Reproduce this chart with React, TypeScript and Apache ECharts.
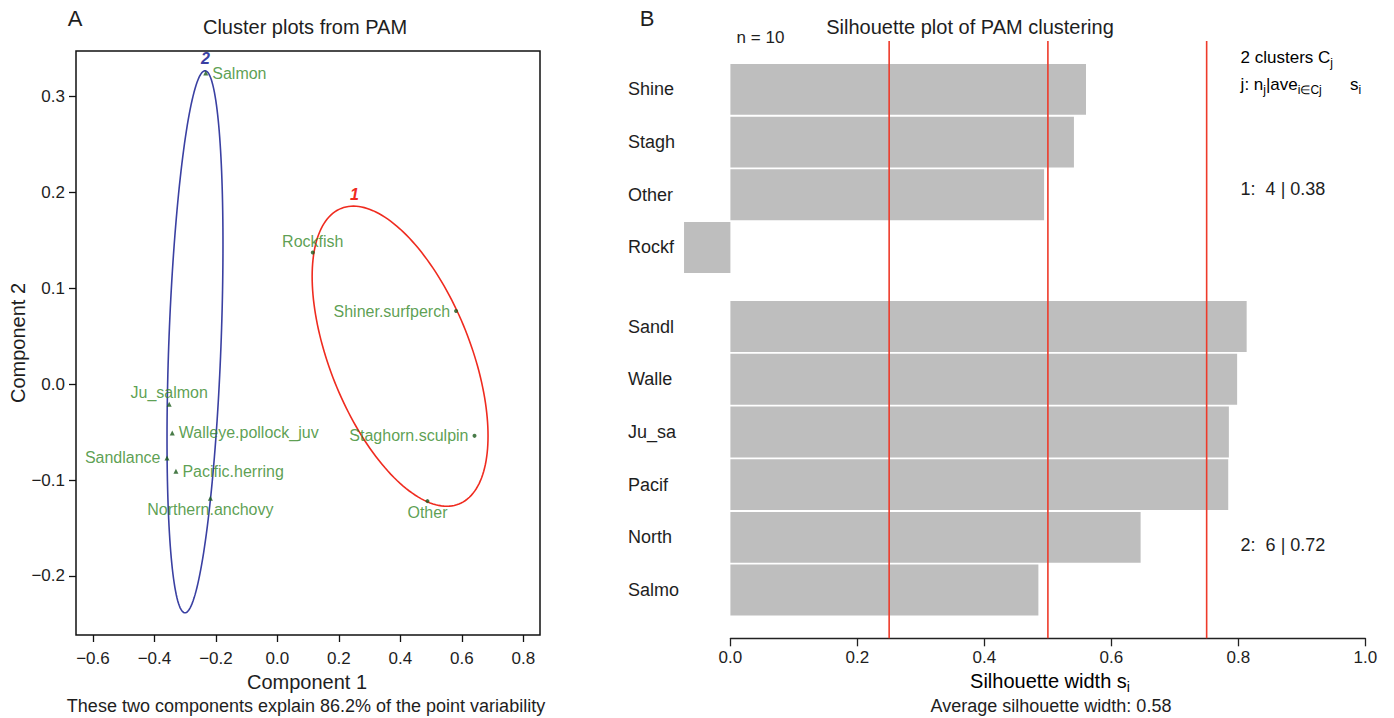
import React, { useEffect, useRef } from "react";
import * as echarts from "echarts";

// ---------- Panel A data (clusplot) ----------
const speciesNames = [
  "Salmon", "Ju_salmon", "Walleye.pollock_juv", "Sandlance", "Pacific.herring",
  "Northern.anchovy", "Rockfish", "Shiner.surfperch", "Staghorn.sculpin", "Other",
];
const comp1 = [-0.233, -0.352, -0.342, -0.359, -0.330, -0.218, 0.115, 0.581, 0.641, 0.488];
const comp2 = [0.324, -0.021, -0.051, -0.077, -0.091, -0.119, 0.137, 0.076, -0.054, -0.122];
const speciesCluster = [2, 2, 2, 2, 2, 2, 1, 1, 1, 1];

// ellipses: center + two conjugate half-axis vectors (data units)
const clusterIds = [1, 2];
const ellipseCenterX = [0.399, -0.268];
const ellipseCenterY = [0.029, 0.044];
const ellipseAx = [0.286, 0.091];
const ellipseAy = [-0.083, 0.101];
const ellipseBx = [0, 0];
const ellipseBy = [0.1325, 0.2637];

const xTicksA = [-0.6, -0.4, -0.2, 0, 0.2, 0.4, 0.6, 0.8];
const yTicksA = [-0.2, -0.1, 0, 0.1, 0.2, 0.3];
const varExplained = 86.2;

// ---------- Panel B data (silhouette) ----------
const silNames = ["Shine", "Stagh", "Other", "Rockf", "Sandl", "Walle", "Ju_sa", "Pacif", "North", "Salmo"];
const silValues = [0.560, 0.541, 0.494, -0.073, 0.813, 0.798, 0.785, 0.784, 0.646, 0.485];
const silCluster = [1, 1, 1, 1, 2, 2, 2, 2, 2, 2];
const xTicksB = [0, 0.2, 0.4, 0.6, 0.8, 1.0];
const refLines = [0.25, 0.5, 0.75];
const clusterSizes = [4, 6];
const clusterAvgSil = [0.38, 0.72];
const avgSil = 0.58;
const nObs = 10;

// ---------- styling ----------
const FONT = "'Liberation Sans', Arial, Helvetica, sans-serif";
const TXT = "#1e1e1e";
const LABEL_GREEN = "#338726";
const POINT_GREEN = "#1a5a1a";
const CLUSTER_COLORS: Record<number, string> = { 1: "#ef2b1f", 2: "#3a40a2" };
const labelPlacement: Record<string, string> = {
  Salmon: "right",
  Ju_salmon: "top",
  "Walleye.pollock_juv": "right",
  Sandlance: "left",
  "Pacific.herring": "right",
  "Northern.anchovy": "bottom",
  Rockfish: "top",
  "Shiner.surfperch": "left",
  "Staghorn.sculpin": "left",
  Other: "bottom",
};
const CLUSTER_GAP = 0.5; // extra row units between clusters in silhouette plot

const fmtMinus = (v: number) => (v < 0 ? "\u2212" + Math.abs(v).toFixed(1) : v.toFixed(1));

export default function App() {
  const ref = useRef<HTMLDivElement>(null);

  useEffect(() => {
    if (!ref.current) return;
    const chart = echarts.init(ref.current, undefined, { renderer: "svg" });

    const rowPos: number[] = silNames.map((_, i) => i + (silCluster[i] - 1) * CLUSTER_GAP);
    const posName: Record<string, string> = {};
    rowPos.forEach((p, i) => (posName[p.toFixed(2)] = silNames[i]));

    const scatterData = speciesNames.map((n, i) => ({
      name: n,
      value: [comp1[i], comp2[i]],
      symbol: speciesCluster[i] === 2 ? "triangle" : "circle",
      symbolSize: speciesCluster[i] === 2 ? 5 : 4,
      label: { position: labelPlacement[n], distance: labelPlacement[n] === "top" || labelPlacement[n] === "bottom" ? 1 : 4 },
    }));

    const txt = (text: string, x: number, y: number, size: number, extra: any = {}) => ({
      type: "text",
      x,
      y,
      silent: true,
      ...extra,
      style: {
        text,
        fill: TXT,
        font: `${size}px ${FONT}`,
        align: extra.align || "center",
        verticalAlign: "middle",
        textAlign: extra.align || "center",
        textVerticalAlign: "middle",
      },
    });

    const subRich = (size: number) => ({
      m: { fontSize: size, fontFamily: FONT, color: TXT, lineHeight: size + 6, verticalAlign: "middle" },
      s: { fontSize: Math.round(size * 0.7), fontFamily: FONT, color: TXT, lineHeight: Math.round(size * 0.7), verticalAlign: "bottom" },
    });

    const option: any = {
      animation: false,
      backgroundColor: "#ffffff",
      grid: [
        { left: 76, top: 51, width: 464, height: 584, show: true, borderColor: "#111", borderWidth: 1.5, backgroundColor: "transparent" },
        { left: 730.4, top: 41, width: 635, height: 597.3, show: false },
      ],
      xAxis: [
        {
          gridIndex: 0, type: "value", min: -0.655, max: 0.854,
          axisLine: { show: false, onZero: false },
          splitLine: { show: false },
          axisTick: { show: true, customValues: xTicksA, length: 7, lineStyle: { color: "#111", width: 1.3 } },
          axisLabel: { customValues: xTicksA, formatter: fmtMinus, margin: 15, fontSize: 17, fontFamily: FONT, color: TXT },
        },
        {
          gridIndex: 1, type: "value", min: 0, max: 1, interval: 0.2,
          axisLine: { show: true, onZero: false, lineStyle: { color: "#222", width: 1.3 } },
          splitLine: { show: false },
          axisTick: { show: true, length: 8, lineStyle: { color: "#222", width: 1.3 } },
          axisLabel: { customValues: xTicksB, formatter: (v: number) => v.toFixed(1), margin: 11, fontSize: 17, fontFamily: FONT, color: TXT },
        },
      ],
      yAxis: [
        {
          gridIndex: 0, type: "value", min: -0.2615, max: 0.347,
          axisLine: { show: false, onZero: false },
          splitLine: { show: false },
          axisTick: { show: true, customValues: yTicksA, length: 7, lineStyle: { color: "#111", width: 1.3 } },
          axisLabel: { customValues: yTicksA, formatter: fmtMinus, margin: 11, fontSize: 17, fontFamily: FONT, color: TXT },
        },
        {
          gridIndex: 1, type: "value", inverse: true, min: -0.918, max: 10.416,
          axisLine: { show: false, onZero: false },
          axisTick: { show: false },
          splitLine: { show: false },
          axisLabel: {
            customValues: rowPos,
            formatter: (v: number) => posName[v.toFixed(2)] || "",
            align: "left", margin: 102.4, fontSize: 18, fontFamily: FONT, color: TXT,
            padding: [4, 0, 0, 0],
          },
        },
      ],
      series: [
        {
          type: "custom",
          xAxisIndex: 0, yAxisIndex: 0,
          silent: true,
          data: clusterIds.map((id, i) => [ellipseCenterX[i], ellipseCenterY[i], id]),
          encode: { x: 0, y: 1 },
          renderItem: (params: any, api: any) => {
            const i = params.dataIndex;
            const id = clusterIds[i];
            const pts: number[][] = [];
            let top = [0, Infinity];
            for (let k = 0; k <= 180; k++) {
              const t = (k / 180) * Math.PI * 2;
              const dx = ellipseCenterX[i] + ellipseAx[i] * Math.cos(t) + ellipseBx[i] * Math.sin(t);
              const dy = ellipseCenterY[i] + ellipseAy[i] * Math.cos(t) + ellipseBy[i] * Math.sin(t);
              const p = api.coord([dx, dy]);
              pts.push(p);
              if (p[1] < top[1]) top = p;
            }
            return {
              type: "group",
              children: [
                { type: "polygon", shape: { points: pts }, style: { fill: "none", stroke: CLUSTER_COLORS[id], lineWidth: 1.6 } },
                {
                  type: "text", x: top[0] + 1, y: top[1] - 12,
                  style: { text: String(id), fill: CLUSTER_COLORS[id], font: `italic bold 16px ${FONT}`, align: "center", verticalAlign: "middle" },
                },
              ],
            };
          },
          z: 2,
        },
        {
          type: "scatter",
          xAxisIndex: 0, yAxisIndex: 0,
          data: scatterData,
          itemStyle: { color: POINT_GREEN },
          label: { show: true, formatter: "{b}", color: LABEL_GREEN, fontSize: 16, fontFamily: FONT },
          z: 3,
        },
        {
          type: "custom",
          xAxisIndex: 1, yAxisIndex: 1,
          silent: true,
          data: silValues.map((v, i) => [v, rowPos[i]]),
          encode: { x: 0, y: 1 },
          renderItem: (params: any, api: any) => {
            const v = api.value(0);
            const r = api.value(1);
            const p0 = api.coord([0, r]);
            const p1 = api.coord([v, r]);
            const h = Math.abs(api.size([0, 1])[1]);
            return {
              type: "rect",
              shape: { x: Math.min(p0[0], p1[0]), y: p0[1] - h / 2 + 0.9, width: Math.abs(p1[0] - p0[0]), height: h - 1.8 },
              style: { fill: "#bebebe" },
            };
          },
          z: 2,
        },
        {
          type: "custom",
          xAxisIndex: 1, yAxisIndex: 1,
          silent: true,
          data: refLines.map((v) => [v, 0]),
          encode: { x: 0, y: 1 },
          renderItem: (params: any, api: any) => {
            const x = api.coord([api.value(0), 0])[0];
            const cs = params.coordSys;
            return {
              type: "line",
              shape: { x1: x, y1: cs.y, x2: x, y2: cs.y + cs.height },
              style: { stroke: "#ee3a2a", lineWidth: 1.6 },
            };
          },
          z: 3,
        },
      ],
      graphic: [
        txt("A", 75, 18, 22),
        txt("Cluster plots from PAM", 305, 27, 20),
        txt("Component 2", 18, 343, 20, { rotation: Math.PI / 2 }),
        txt("Component 1", 307, 682, 20),
        txt(`These two components explain ${varExplained}% of the point variability`, 306, 706, 18),
        txt("B", 647, 18, 22),
        txt("Silhouette plot of PAM clustering", 970, 27, 20),
        txt(`n = ${nObs}`, 736.6, 37, 17, { align: "left" }),
        {
          type: "text", x: 1240.6, y: 57, silent: true,
          style: { text: `{m|${clusterIds.length} clusters C}{s|j}`, rich: subRich(17), align: "left", verticalAlign: "middle", textAlign: "left", textVerticalAlign: "middle" },
        },
        {
          type: "text", x: 1240.6, y: 84, silent: true,
          style: { text: "{m|j: n}{s|j}{m||ave}{s|i\u2208Cj}{m|      s}{s|i}", rich: subRich(17), align: "left", verticalAlign: "middle", textAlign: "left", textVerticalAlign: "middle" },
        },
        txt(`${clusterIds[0]}:  ${clusterSizes[0]} | ${clusterAvgSil[0].toFixed(2)}`, 1240.6, 189, 18, { align: "left" }),
        txt(`${clusterIds[1]}:  ${clusterSizes[1]} | ${clusterAvgSil[1].toFixed(2)}`, 1240.6, 545, 18, { align: "left" }),
        {
          type: "text", x: 1050, y: 681, silent: true,
          style: { text: "{m|Silhouette width s}{s|i}", rich: subRich(20), align: "center", verticalAlign: "middle", textAlign: "center", textVerticalAlign: "middle" },
        },
        txt(`Average silhouette width: ${avgSil.toFixed(2)}`, 1051, 705.5, 18),
      ],
    };

    chart.setOption(option);
    return () => chart.dispose();
  }, []);

  return (
    <div
      ref={ref}
      style={{ position: "fixed", left: 0, top: 0, width: 1394, height: 718, background: "#fff" }}
    />
  );
}
